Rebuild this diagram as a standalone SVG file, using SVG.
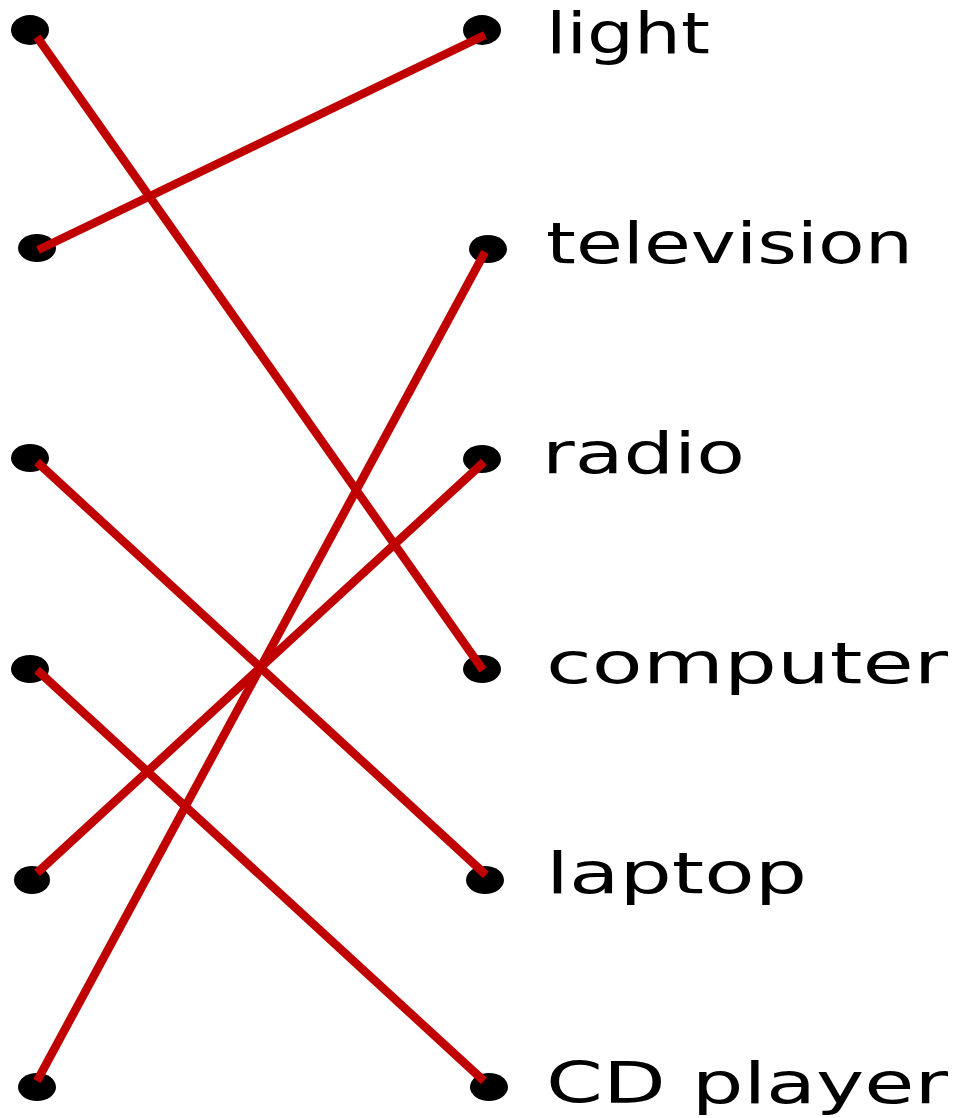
<svg xmlns="http://www.w3.org/2000/svg" width="958" height="1118" viewBox="0 0 958 1118">
<style>
.dot{fill:#000}
.ln{stroke:#c00000;stroke-width:8.5;stroke-linecap:butt;fill:none}
.lb{font-family:"DejaVu Sans","Liberation Sans",sans-serif;font-size:57px;fill:#000}
</style>
<rect width="958" height="1118" fill="#fff"/>
<g id="left-dots">
<g id="l1"><ellipse class="dot" cx="30" cy="30" rx="19" ry="15"/></g>
<g id="l2"><ellipse class="dot" cx="37" cy="248" rx="19" ry="14"/></g>
<g id="l3"><ellipse class="dot" cx="30" cy="458" rx="19" ry="14"/></g>
<g id="l4"><ellipse class="dot" cx="30" cy="669" rx="19" ry="14"/></g>
<g id="l5"><ellipse class="dot" cx="32" cy="880" rx="18" ry="14"/></g>
<g id="l6"><ellipse class="dot" cx="37" cy="1087" rx="19" ry="14"/></g>
</g>
<g id="right-nodes">
<g id="light"><ellipse class="dot" cx="482" cy="30" rx="19" ry="15"/><text class="lb" x="546" y="53" textLength="164" lengthAdjust="spacingAndGlyphs">light</text></g>
<g id="television"><ellipse class="dot" cx="488" cy="249" rx="19" ry="14"/><text class="lb" x="546" y="263" textLength="367" lengthAdjust="spacingAndGlyphs">television</text></g>
<g id="radio"><ellipse class="dot" cx="482" cy="459" rx="19" ry="14"/><text class="lb" x="542" y="473" textLength="203" lengthAdjust="spacingAndGlyphs">radio</text></g>
<g id="computer"><ellipse class="dot" cx="482" cy="669" rx="19" ry="14"/><text class="lb" x="546" y="683" textLength="402" lengthAdjust="spacingAndGlyphs">computer</text></g>
<g id="laptop"><ellipse class="dot" cx="485" cy="880" rx="19" ry="14"/><text class="lb" x="546" y="893" textLength="261" lengthAdjust="spacingAndGlyphs">laptop</text></g>
<g id="cdplayer"><ellipse class="dot" cx="489" cy="1087" rx="19" ry="14"/><text class="lb" x="546" y="1103" textLength="402" lengthAdjust="spacingAndGlyphs">CD player</text></g>
</g>
<g id="connectors">
<line class="ln" x1="37" y1="37" x2="483" y2="670"/>
<line class="ln" x1="38" y1="250" x2="485" y2="35"/>
<line class="ln" x1="37" y1="462" x2="486" y2="875"/>
<line class="ln" x1="37" y1="670" x2="484" y2="1081"/>
<line class="ln" x1="37" y1="873" x2="484" y2="462"/>
<line class="ln" x1="37" y1="1081" x2="485" y2="252"/>
</g>
</svg>
